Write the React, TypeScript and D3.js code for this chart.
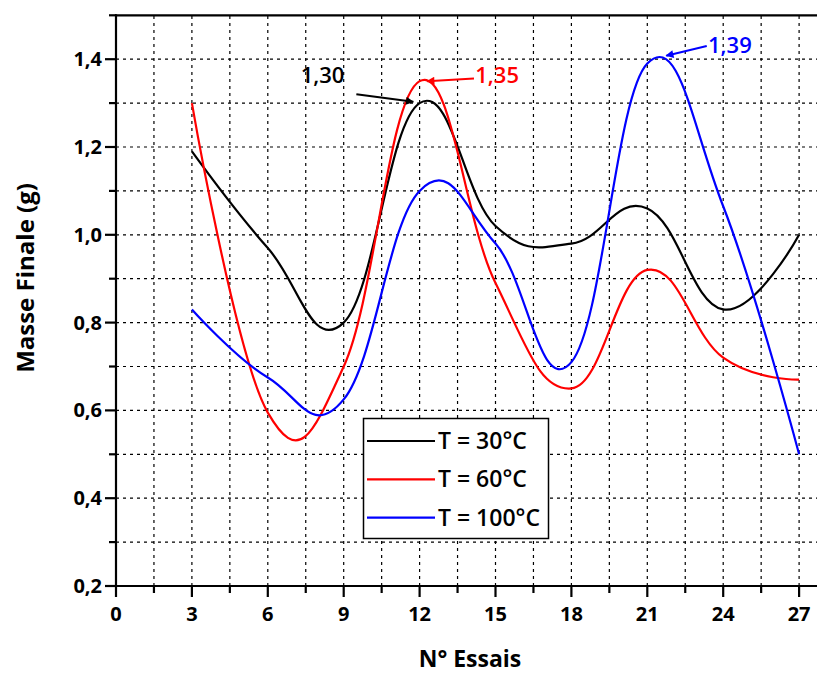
import React from "react";
import * as d3 from "d3";

const essais = [3, 6, 9, 12, 15, 18, 21, 24, 27];
const masse30 = [1.19, 0.97, 0.8, 1.3, 1.02, 0.98, 1.06, 0.83, 1.0];
const masse60 = [1.3, 0.595, 0.7, 1.35, 0.89, 0.65, 0.92, 0.72, 0.67];
const masse100 = [0.83, 0.675, 0.625, 1.1, 0.98, 0.71, 1.39, 1.065, 0.5];
const seriesNames = ["T = 30°C", "T = 60°C", "T = 100°C"];
const seriesColors = ["#000000", "#ff0000", "#0000ff"];
const xMajorTicks = [0, 3, 6, 9, 12, 15, 18, 21, 24, 27];
const yMajorTicks = [0.2, 0.4, 0.6, 0.8, 1.0, 1.2, 1.4];
// annotations: text, text position (data), arrow start, arrow tip (data)
const annotations = [
  { text: "1,30", color: "#000000", tx: 7.3, ty: 1.345, x1: 9.5, y1: 1.32, x2: 11.75, y2: 1.303 },
  { text: "1,35", color: "#ff0000", tx: 14.2, ty: 1.345, x1: 14.15, y1: 1.356, x2: 12.3, y2: 1.35 },
  { text: "1,39", color: "#0000ff", tx: 23.4, ty: 1.415, x1: 23.35, y1: 1.43, x2: 21.75, y2: 1.408 },
];

const W = 817;
const H = 675;

export default function App() {
  const x = d3.scaleLinear().domain([0, 28.5]).range([116, 116 + 28.5 * 25.3]);
  const y = d3.scaleLinear().domain([0.2, 1.5]).range([586, 586 - 1.3 * 439]);
  const series = [masse30, masse60, masse100];
  const line = d3
    .line<number>()
    .x((_, i) => x(essais[i]))
    .y((d) => y(d))
    .curve(d3.curveCardinal.tension(-0.25));

  const xGrid = d3.range(1, 19).map((k) => k * 1.5);
  const yGrid = d3.range(3, 15).map((k) => k / 10);
  const xMinor = d3.range(0, 10).map((k) => 1.5 + 3 * k);
  const yMinor = d3.range(0, 7).map((k) => 0.3 + 0.2 * k);
  const fmt = (v: number) => d3.format(".1f")(v).replace(".", ",");
  const tickFont = "'Open Sans', sans-serif";
  const x0 = x(0);
  const yb = y(0.2);
  const yt = y(1.5);

  return (
    <svg width={W} height={H} style={{ position: "absolute", left: 0, top: 0, background: "#fff" }}>
      <defs>
        {seriesColors.map((c, i) => (
          <marker key={i} id={`ah${i}`} viewBox="0 0 10 10" refX="9" refY="5" markerWidth="10" markerHeight="8" markerUnits="userSpaceOnUse" orient="auto">
            <path d="M0,0 L10,5 L0,10 z" fill={c} />
          </marker>
        ))}
      </defs>
      <rect x={0} y={0} width={W} height={H} fill="#fff" />
      {/* grid */}
      <g stroke="#000" strokeWidth={1.2} strokeDasharray="3,4">
        {xGrid.map((g) => (
          <line key={`gx${g}`} x1={x(g)} x2={x(g)} y1={yb} y2={yt} />
        ))}
        {yGrid.map((g) => (
          <line key={`gy${g}`} x1={x0} x2={W} y1={y(g)} y2={y(g)} />
        ))}
      </g>
      {/* curves */}
      {series.map((s, i) => (
        <path key={i} d={line(s) || ""} fill="none" stroke={seriesColors[i]} strokeWidth={2.2} />
      ))}
      {/* axes */}
      <g stroke="#000" strokeWidth={2.2}>
        <line x1={x0} x2={x0} y1={yt - 1} y2={yb} />
        <line x1={x0 - 1} x2={W} y1={yb} y2={yb} />
        <line x1={x0 - 1} x2={W} y1={yt} y2={yt} />
        {xMajorTicks.map((t) => (
          <line key={`xt${t}`} x1={x(t)} x2={x(t)} y1={yb} y2={yb + 11} />
        ))}
        {xMinor.map((t) => (
          <line key={`xm${t}`} x1={x(t)} x2={x(t)} y1={yb} y2={yb + 7} />
        ))}
        {yMajorTicks.map((t) => (
          <line key={`yt${t}`} x1={x0 - 11} x2={x0} y1={y(t)} y2={y(t)} />
        ))}
        {yMinor.map((t) => (
          <line key={`ym${t}`} x1={x0 - 7} x2={x0} y1={y(t)} y2={y(t)} />
        ))}
      </g>
      {/* tick labels */}
      <g fontFamily={tickFont} fontWeight="bold" fontSize={20} fill="#000">
        {xMajorTicks.map((t) => (
          <text key={`xl${t}`} x={x(t)} y={yb + 35} textAnchor="middle">
            {t}
          </text>
        ))}
        {yMajorTicks.map((t) => (
          <text key={`yl${t}`} x={x0 - 14} y={y(t) + 7} textAnchor="end">
            {fmt(t)}
          </text>
        ))}
      </g>
      {/* axis titles */}
      <text x={470} y={667} textAnchor="middle" fontFamily={tickFont} fontWeight="bold" fontSize={23}>
        N° Essais
      </text>
      <text transform={`translate(34,278) rotate(-90)`} textAnchor="middle" fontFamily={tickFont} fontWeight="bold" fontSize={24}>
        Masse Finale (g)
      </text>
      {/* legend */}
      <g>
        <rect x={363.5} y={418.5} width={185} height={120} fill="#fff" stroke="#000" strokeWidth={1.5} />
        {seriesNames.map((n, i) => (
          <g key={n}>
            <line x1={367} x2={435} y1={441 + i * 38.3} y2={441 + i * 38.3} stroke={seriesColors[i]} strokeWidth={2.2} />
            <text x={438} y={441 + i * 38.3 + 8} fontFamily={tickFont} fontWeight={600} fontSize={23} fill="#000">
              {n}
            </text>
          </g>
        ))}
      </g>
      {/* annotations */}
      {annotations.map((a, i) => (
        <g key={a.text}>
          <line x1={x(a.x1)} y1={y(a.y1)} x2={x(a.x2)} y2={y(a.y2)} stroke={a.color} strokeWidth={2} markerEnd={`url(#ah${i})`} />
          <text x={x(a.tx)} y={y(a.ty)} fontFamily={tickFont} fontWeight={600} fontSize={22} fill={a.color}>
            {a.text}
          </text>
        </g>
      ))}
    </svg>
  );
}
